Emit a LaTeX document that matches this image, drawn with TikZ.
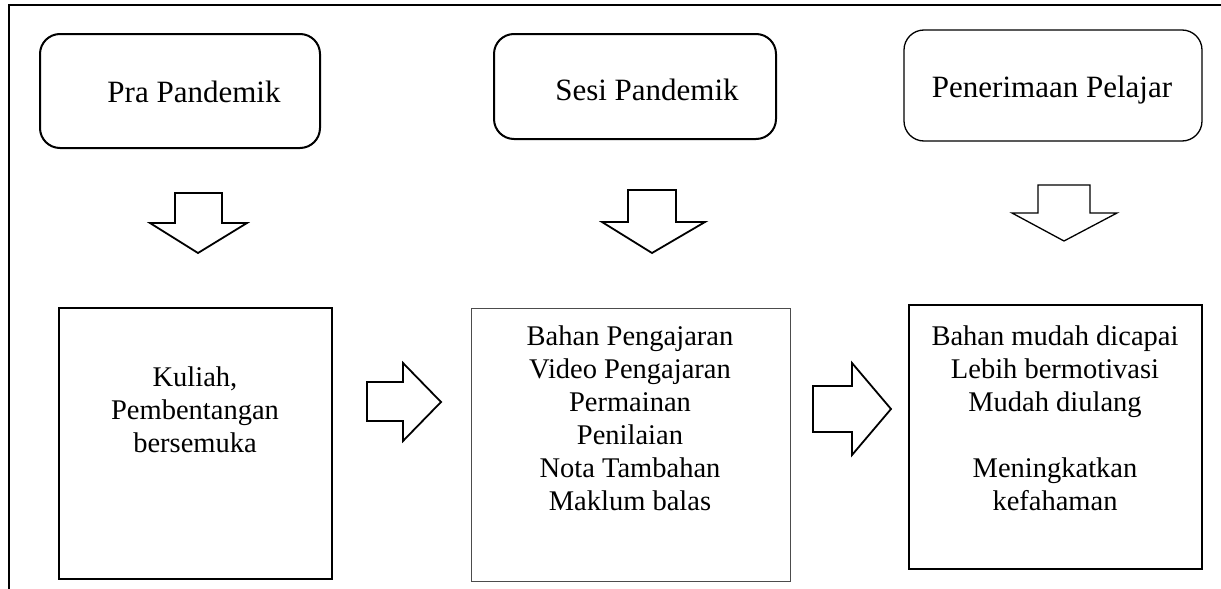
\documentclass[tikz,border=0pt]{standalone}
\usepackage{fontspec}
\setmainfont{Liberation Serif}
\begin{document}
\begin{tikzpicture}[x=1pt,y=-1pt,
  topbox/.style={draw=black,rounded corners=20pt,inner sep=0pt},
  lowbox/.style={draw=black,inner sep=0pt},
  toptext/.style={font=\fontsize{31}{36}\selectfont,inner sep=0pt},
  lowtext/.style={font=\fontsize{28.5}{33}\selectfont,align=center,inner sep=0pt},
  blockarrow/.style={draw=black,line width=1.8pt,fill=white,line join=miter}]
\useasboundingbox (0,0) rectangle (1221,589);
% outer frame
\coordinate (fb) at (9,589);
\coordinate (ftl) at (9,5);
\coordinate (fr) at (1221,5);
\draw[line width=2pt] (fb) -- (ftl) -- (fr);
% top boxes
\node[topbox,line width=2pt,minimum width=280pt,minimum height=114pt] (b1) at (180,91) {};
\node[topbox,line width=2pt,minimum width=282pt,minimum height=105pt] (b2) at (635,86.5) {};
\node[topbox,line width=1.3pt,minimum width=298pt,minimum height=111pt] (b3) at (1053,85.5) {};
\node[toptext] (t1) at (194,92) {Pra Pandemik};
\node[toptext] (t2) at (647,90) {Sesi Pandemik};
\node[toptext] (t3) at (1052,90) {Penerimaan Pelajar};
% lower boxes
\node[lowbox,line width=2.5pt,minimum width=273pt,minimum height=271pt] (l1) at (195.5,443.5) {};
\node[lowbox,draw=black!70,line width=0.9pt,minimum width=319pt,minimum height=273pt] (l2) at (630.5,444.5) {};
\node[lowbox,line width=1.4pt,minimum width=293pt,minimum height=264pt] (l3) at (1055.5,437) {};
\node[lowtext] (s1) at (195,410) {Kuliah,\\Pembentangan\\bersemuka};
\node[lowtext] (s2) at (630,418.5) {Bahan Pengajaran\\Video Pengajaran\\Permainan\\Penilaian\\Nota Tambahan\\Maklum balas};
\node[lowtext] (s3) at (1055,418.5) {Bahan mudah dicapai\\Lebih bermotivasi\\Mudah diulang\\\mbox{}\\Meningkatkan\\kefahaman};
% down block arrows
\draw[blockarrow] (175,193) -- (222,193) -- (222,223) -- (247,223) -- (198,253) -- (150,223) -- (175,223) -- cycle;
\draw[blockarrow] (628,190) -- (676,190) -- (676,222) -- (705,222) -- (652,253) -- (602,222) -- (628,222) -- cycle;
\draw[blockarrow,line width=1.3pt] (1038,185) -- (1090,185) -- (1090,213) -- (1117,213) -- (1064,241) -- (1012,213) -- (1038,213) -- cycle;
% right block arrows
\draw[blockarrow] (367,382) -- (403,382) -- (403,363) -- (441,402) -- (403,441) -- (403,421) -- (367,421) -- cycle;
\draw[blockarrow] (813,386) -- (852,386) -- (852,363) -- (891,409) -- (852,455) -- (852,432) -- (813,432) -- cycle;
\end{tikzpicture}
\end{document}
